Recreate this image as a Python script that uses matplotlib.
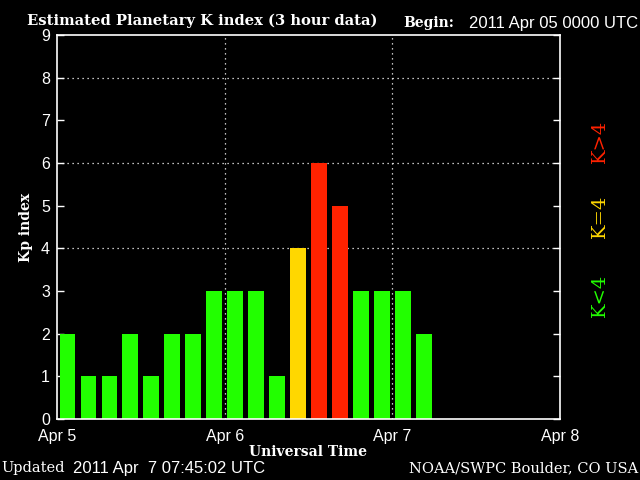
import matplotlib
matplotlib.use('Agg')
import matplotlib.pyplot as plt
import numpy as np

# Kp values, one per 3-hour period starting 2011 Apr 05 0000 UTC
kp_values = [2, 1, 1, 2, 1, 2, 2, 3, 3, 3, 1, 4, 6, 5, 3, 3, 3, 2]
day_labels = ['Apr 5', 'Apr 6', 'Apr 7', 'Apr 8']
y_ticks = [0, 1, 2, 3, 4, 5, 6, 7, 8, 9]

GREEN = '#22ff00'
YELLOW = '#ffd700'
RED = '#ff2200'
BG = 'black'
FG = 'white'

SERIF = 'DejaVu Serif'
SANS = 'Liberation Sans'

fig = plt.figure(figsize=(6.4, 4.8), dpi=100)
fig.patch.set_facecolor(BG)
ax = fig.add_axes([0.089, 0.127, 0.786, 0.800])
ax.set_facecolor(BG)

hours = np.arange(len(kp_values)) * 3 + 1.5
colors = [GREEN if v < 4 else (YELLOW if v == 4 else RED) for v in kp_values]
ax.bar(hours, kp_values, width=2.25, color=colors, zorder=3)

ax.set_xlim(0, 72)
ax.set_ylim(0, 9)

# dotted grid
for y in [4, 6, 8]:
    ax.axhline(y, color=FG, linestyle=(0, (1, 3)), linewidth=0.9, zorder=1)
for x in [24, 48]:
    ax.axvline(x, color=FG, linestyle=(0, (1, 3)), linewidth=0.9, zorder=4)

ax.set_xticks([0, 24, 48, 72])
ax.set_xticklabels(day_labels, fontsize=11.5, color=FG, family=SANS)
ax.set_xticks(hours, minor=True)
ax.tick_params(axis='x', which='major', direction='in', length=0, pad=7)
ax.tick_params(axis='x', which='minor', direction='in', length=8, color='black', width=1)
ax.set_yticks(y_ticks)
ax.set_yticklabels([str(t) for t in y_ticks], fontsize=11.5, color=FG, family=SANS)
ax.tick_params(axis='y', which='major', direction='in', length=5, color=FG, width=1,
               right=True, pad=5)

for spine in ax.spines.values():
    spine.set_color(FG)
    spine.set_linewidth(1.2)
    spine.set_zorder(5)

ax.set_xlabel('Universal Time', fontsize=10, fontweight='bold', color=FG, family=SERIF, labelpad=1)
ax.set_ylabel('Kp index', fontsize=10, fontweight='bold', color=FG, family=SERIF, labelpad=6)

# header
fig.text(0.042, 0.957, 'Estimated Planetary K index (3 hour data)', fontsize=10.6, fontweight='bold',
         color=FG, family=SERIF, ha='left', va='center')
fig.text(0.630, 0.952, 'Begin:', fontsize=10, fontweight='bold', color=FG, family=SERIF,
         ha='left', va='center')
fig.text(0.997, 0.952, '2011 Apr 05 0000 UTC', fontsize=12, color=FG, family=SANS,
         ha='right', va='center')

# footer
fig.text(0.002, 0.024, 'Updated', fontsize=10.5, color=FG, family=SERIF, ha='left', va='center')
fig.text(0.114, 0.024, '2011 Apr  7 07:45:02 UTC', fontsize=12, color=FG, family=SANS,
         ha='left', va='center')
fig.text(0.997, 0.024, 'NOAA/SWPC Boulder, CO USA', fontsize=10.5, color=FG, family=SERIF,
         ha='right', va='center')

# colour key
fig.text(0.938, 0.385, 'K<4', fontsize=14, color=GREEN, family=SERIF, rotation=90,
         ha='center', va='center')
fig.text(0.938, 0.550, 'K=4', fontsize=14, color=YELLOW, family=SERIF, rotation=90,
         ha='center', va='center')
fig.text(0.938, 0.705, 'K>4', fontsize=14, color=RED, family=SERIF, rotation=90,
         ha='center', va='center')

fig.savefig('out.png', dpi=100, facecolor=BG)
